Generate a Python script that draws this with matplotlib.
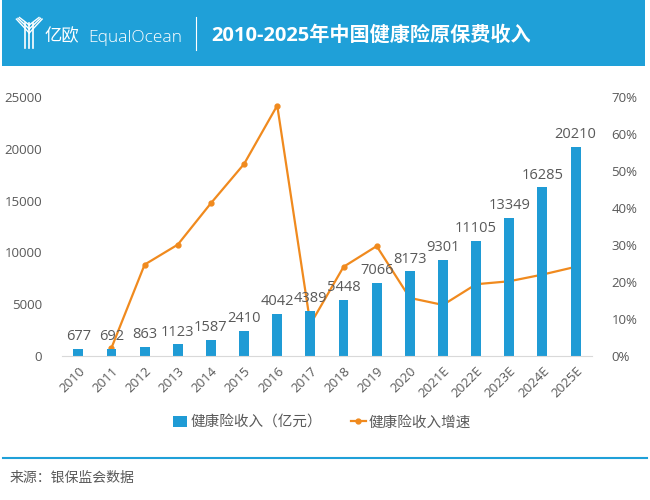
import matplotlib
matplotlib.use("Agg")
import matplotlib.pyplot as plt
from matplotlib.patches import Rectangle
from matplotlib.lines import Line2D

plt.rcParams['font.family'] = ['Open Sans', 'Noto Sans CJK SC', 'DejaVu Sans']

categories = ['2010', '2011', '2012', '2013', '2014', '2015', '2016', '2017',
              '2018', '2019', '2020', '2021E', '2022E', '2023E', '2024E', '2025E']
revenue = [677, 692, 863, 1123, 1587, 2410, 4042, 4389, 5448, 7066, 8173,
           9301, 11105, 13349, 16285, 20210]
growth_years = categories[1:]
growth = [2.2, 24.7, 30.1, 41.3, 51.9, 67.7, 8.6, 24.1, 29.7, 15.7, 13.8,
          19.4, 20.2, 22.0, 24.1]
left_ticks = [0, 5000, 10000, 15000, 20000, 25000]
right_ticks = [0, 10, 20, 30, 40, 50, 60, 70]

title = '2010-2025年中国健康险原保费收入'
bar_label = '健康险收入（亿元）'
line_label = '健康险收入增速'
source = '来源：银保监会数据'

BLUE = '#1f9bd5'
ORANGE = '#f08a1e'
GRAY = '#595959'

fig = plt.figure(figsize=(6.5, 5), dpi=100)
fig.patch.set_facecolor('white')

# Header band
fig.add_artist(Rectangle((0.003, 1 - 66 / 500), 0.99, 66 / 500, transform=fig.transFigure,
                         facecolor='#1fa0d8', edgecolor='none'))
# simple logo icon
for dx in (-0.006, 0.0, 0.006):
    fig.add_artist(Line2D([0.045 + dx, 0.045 + dx], [0.905, 0.955], transform=fig.transFigure,
                          color='white', lw=1.2))
for i, off in enumerate((0.0, 0.008, 0.016)):
    fig.add_artist(Line2D([0.030 - off * 0.3, 0.045], [0.965 - off * 0.2, 0.95 - off],
                          transform=fig.transFigure, color='white', lw=1.0))
    fig.add_artist(Line2D([0.060 + off * 0.3, 0.045], [0.965 - off * 0.2, 0.95 - off],
                          transform=fig.transFigure, color='white', lw=1.0))
fig.text(0.068, 0.927, '亿欧', color='white', fontsize=12.5, va='center', ha='left',
         family=['Noto Sans CJK SC'])
fig.text(0.135, 0.925, 'EqualOcean', color='white', fontsize=12.5, va='center', ha='left',
         family=['Open Sans'], fontweight='light')
fig.add_artist(Line2D([0.302, 0.302], [0.9, 0.966], transform=fig.transFigure,
                      color='white', lw=0.8))
fig.text(0.325, 0.929, title, color='white', fontsize=14.5, fontweight='bold',
         va='center', ha='left', family=['Open Sans', 'Noto Sans CJK SC'])

# Main axes
ax = fig.add_axes([0.095, 0.288, 0.816, 0.518])
x = list(range(len(categories)))
bars = ax.bar(x, revenue, width=0.3, color=BLUE, zorder=2, label=bar_label)
for xi, v in zip(x, revenue):
    ax.text(xi, v + 450, str(v), ha='center', va='bottom', fontsize=10.5, color=GRAY, zorder=5)
ax.set_xlim(-0.5, len(categories) - 0.5)
ax.set_ylim(0, 25000)
ax.set_yticks(left_ticks)
ax.set_yticklabels([str(t) for t in left_ticks])
ax.set_xticks(x)
ax.set_xticklabels(categories, rotation=45, ha='right', rotation_mode='anchor')
for s in ('top', 'right', 'left'):
    ax.spines[s].set_visible(False)
ax.spines['bottom'].set_color('#d9d9d9')
ax.tick_params(axis='both', length=0, colors=GRAY, labelsize=9.5)
ax.tick_params(axis='y', pad=14)
ax.tick_params(axis='x', pad=6)

ax2 = ax.twinx()
gx = [categories.index(c) for c in growth_years]
ln, = ax2.plot(gx, growth, color=ORANGE, lw=1.6, marker='o', markersize=3.5, zorder=3,
               label=line_label)
ax2.set_ylim(0, 70)
ax2.set_yticks(right_ticks)
ax2.set_yticklabels([f'{t}%' for t in right_ticks])
for s in ax2.spines.values():
    s.set_visible(False)
ax2.tick_params(axis='y', length=0, colors=GRAY, labelsize=9.5, pad=14)
ax.set_zorder(ax2.get_zorder() + 1)
ax.patch.set_visible(False)

leg = fig.legend([bars, ln], [bar_label, line_label], loc='center',
                 bbox_to_anchor=(0.495, 0.155), ncol=2, frameon=False,
                 handlelength=1.0, handletextpad=0.2, columnspacing=2.0,
                 prop={'family': ['Noto Sans CJK SC'], 'size': 10.5})
for t in leg.get_texts():
    t.set_color(GRAY)

# separator and source
fig.add_artist(Line2D([0.005, 0.995], [1 - 458 / 500, 1 - 458 / 500], transform=fig.transFigure,
                      color='#1fa0d8', lw=1.5))
fig.text(0.015, 1 - 478 / 500, source, fontsize=10, color=GRAY, va='center', ha='left',
         family=['Noto Sans CJK SC'])

fig.savefig('out.png', dpi=100)
